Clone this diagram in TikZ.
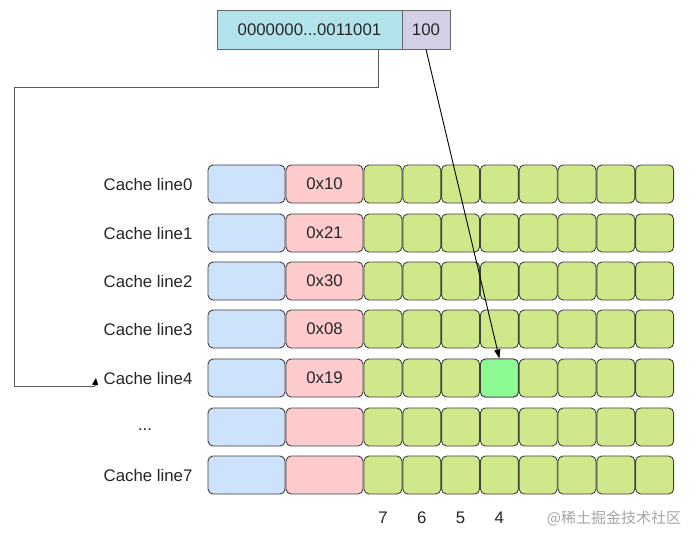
\documentclass[tikz,border=0pt]{standalone}
\usepackage{fontspec}
\setmainfont{Liberation Sans}
\newfontfamily\cjk{Noto Sans CJK SC}
\usetikzlibrary{arrows.meta}
\definecolor{cteal}{HTML}{B3E3EA}
\definecolor{cpurple}{HTML}{D2CFE6}
\definecolor{cblue}{HTML}{CCE3FB}
\definecolor{cpink}{HTML}{FDCBCB}
\definecolor{cgreen}{HTML}{CFE98A}
\definecolor{chigh}{HTML}{8EFA94}
\definecolor{cedge}{HTML}{404040}
\begin{document}
\begin{tikzpicture}[x=1pt,y=-1pt,
  every node/.style={font=\fontsize{16.8}{19}\selectfont, text=black!85},
  box/.style={draw=cedge, line width=0.9pt, rounded corners=5pt, minimum height=38pt, inner sep=0pt},
  tagbox/.style={box, fill=cblue, minimum width=77pt},
  keybox/.style={box, fill=cpink, minimum width=77pt},
  cellbox/.style={box, fill=cgreen, minimum width=38pt},
  hibox/.style={box, fill=chigh, minimum width=38pt},
  addrbox/.style={draw=cedge!80, line width=0.9pt, minimum height=39pt, inner sep=0pt},
  conn/.style={draw=black!65, line width=1pt},
  lbl/.style={anchor=east}]
\useasboundingbox (0,0) rectangle (698,540);
\fill[white] (0,0) rectangle (698,540);
% address boxes
\node[addrbox, fill=cteal, minimum width=185pt] (addr) at (309.5,29.5) {0000000...0011001};
\node[addrbox, fill=cpurple, minimum width=48pt] (off) at (426,29.5) {100};
% rows
\foreach \r/\lab/\tg [count=\i from 0] in {184/Cache line0/0x10, 233/Cache line1/0x21, 281/Cache line2/0x30, 329/Cache line3/0x08, 378/Cache line4/0x19, 427//, 475/Cache line7/} {
  \node[lbl] (lab\i) at (196,\r) {\lab};
  \node[tagbox] (tag\i) at (246.5,\r) {};
  \node[keybox] (key\i) at (324.5,\r) {\tg};
  \foreach \c in {0,1,2,3,4,5,6,7} {
    \node[cellbox] (cell\i-\c) at ({383+\c*38.8},\r) {};
  }
}
\node (dots) at (145,430) {...};
\node[hibox] (hit) at (cell4-3) {};
% column labels
\foreach \c/\t in {0/7,1/6,2/5,3/4} {
  \node (col\c) at ({383+\c*38.8},518) {\t};
}
% watermark
\node[text=black!35, font=\cjk\fontsize{15}{17}\selectfont] (wm) at (614,518) {@稀土掘金技术社区};
% connectors
\coordinate (p1) at (378,88);
\coordinate (p2) at (14,88);
\coordinate (p3) at (14,386);
\coordinate (p4) at (95,386);
\coordinate (p5) at (96,378);
\draw[conn] (addr.south -| p1) -- (p1) -- (p2) -- (p3) -- (p4);
\draw[black, line width=0.8pt, -{Triangle[length=7pt,width=6pt]}] (p4) -- (p5);
\draw[black, line width=0.9pt, -{Triangle[length=9pt,width=6pt]}] (off.south) -- (hit.north);
\end{tikzpicture}
\end{document}
